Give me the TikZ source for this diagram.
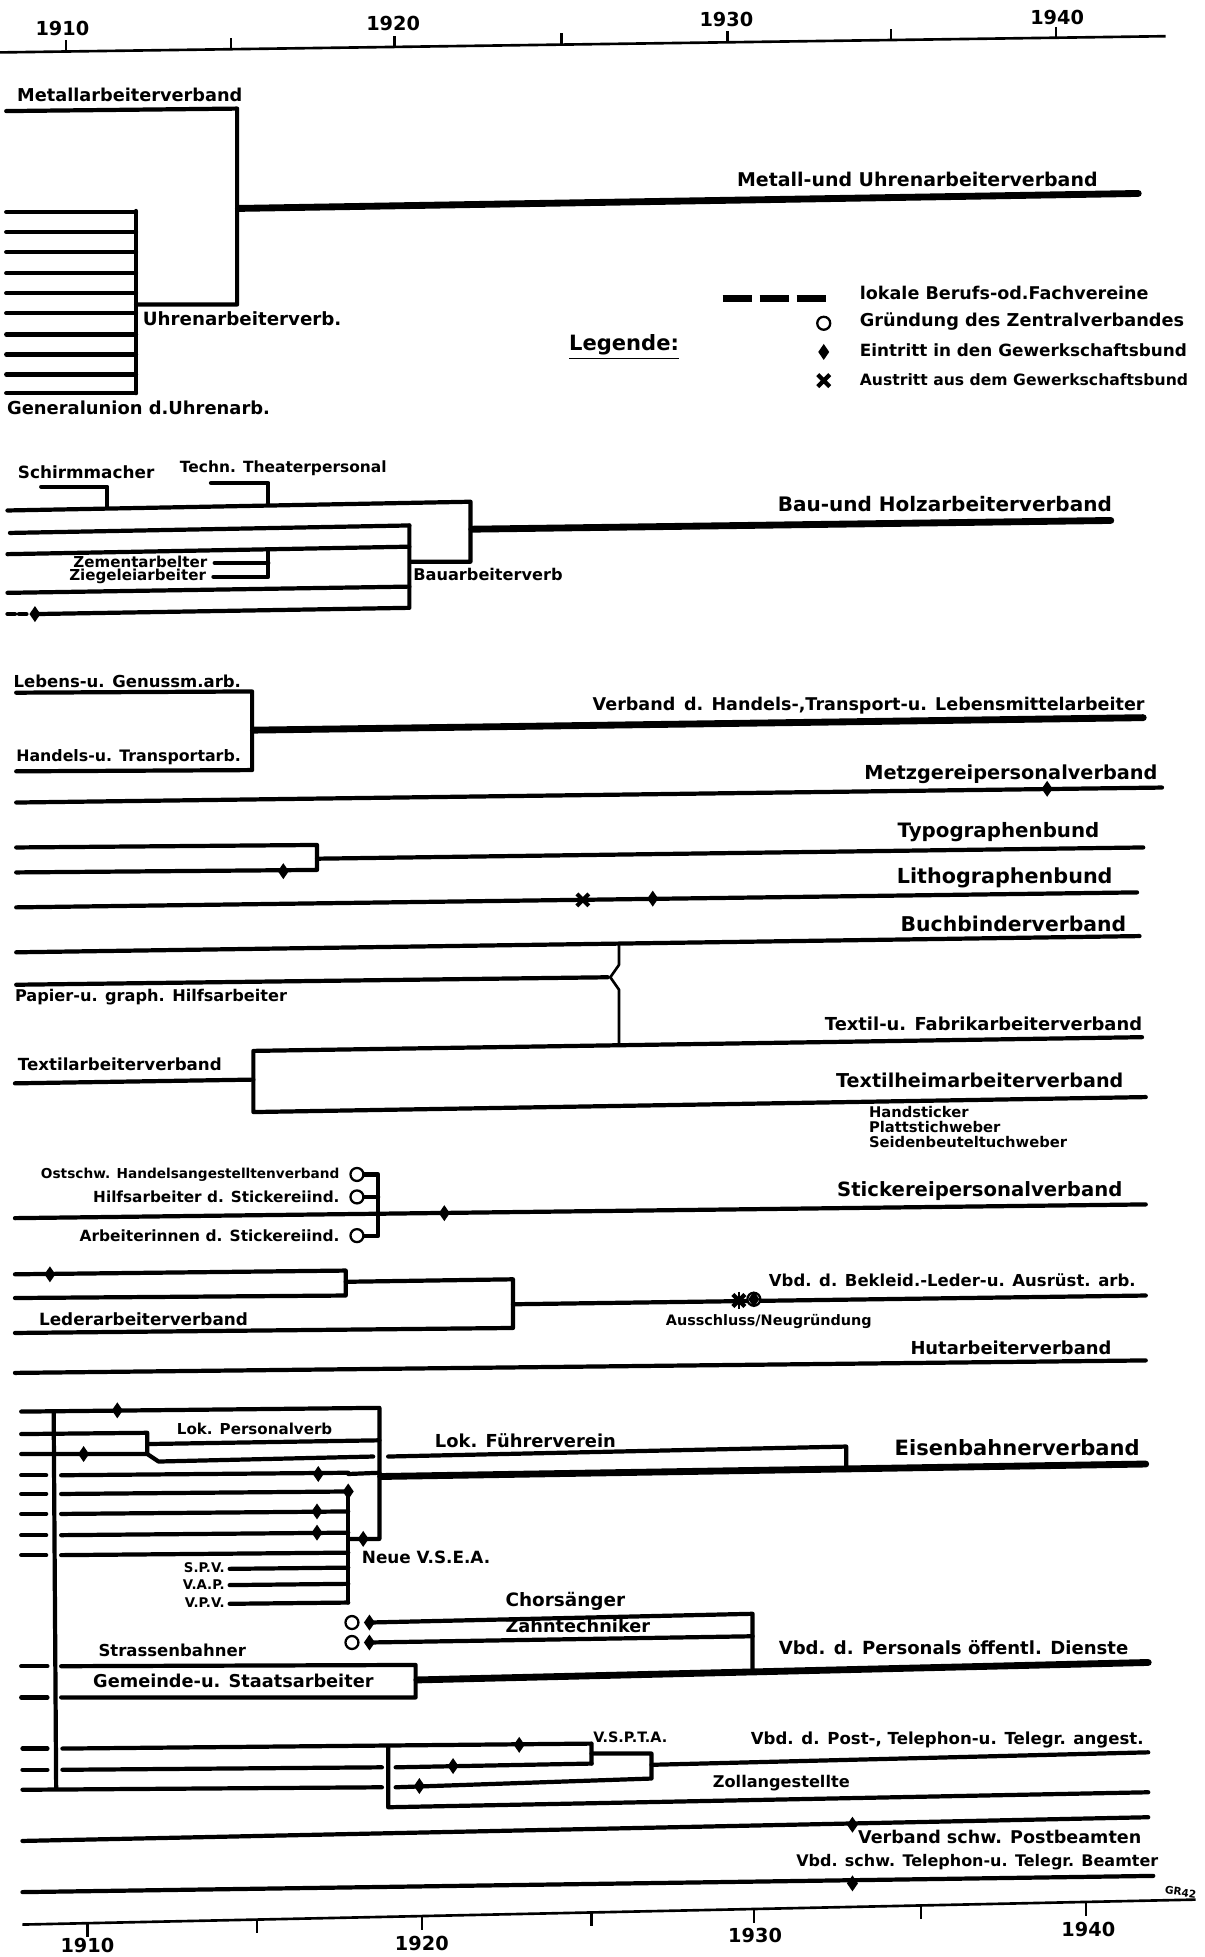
\documentclass[tikz,border=0pt]{standalone}
\usepackage{fontspec}
\setmainfont{DejaVu Sans}
\def\sk{0.025}
\def\punkt#1#2{
	({(#1)*\sk},{-(#2)*\sk})
}
\def\raute#1#2{
	\fill \punkt{#1}{#2} ++(0,0.16) -- ++(0.11,-0.16) -- ++(-0.11,-0.16) -- ++(-0.11,0.16) -- cycle;
}
\def\kreis#1#2{
	\draw[line width=1.3pt,fill=white] \punkt{#1}{#2} circle (0.13);
}
\def\kreuz#1#2{
	\draw[line width=2.4pt] \punkt{#1}{#2} ++(-0.12,0.12) -- ++(0.24,-0.24) ++(-0.24,0) -- ++(0.24,0.24);
}
\tikzset{
	linie/.style={line width=2.4pt,line cap=round,line join=round},
	dick/.style={line width=3.9pt,line cap=round},
	duenn/.style={line width=1.5pt,line join=round},
	achse/.style={line width=1.5pt},
	schrift/.style={font=\fontsize{#1}{#1}\selectfont\bfseries},
}

\begin{document}
\begin{tikzpicture}
\useasboundingbox \punkt{0}{0} rectangle \punkt{965}{1568};
\fill[white] \punkt{0}{0} rectangle \punkt{965}{1568};

% Zeitachsen
\draw[achse] \punkt{0}{42} -- \punkt{934}{29};
\foreach \x in {53,185,316,450,583,714,846}{
	\draw[achse] \punkt{\x}{42-\x/72} -- \punkt{\x}{33-\x/72};
}
\node[schrift=11] (o1910) at \punkt{50}{23} {1910};
\node[schrift=11] (o1920) at \punkt{315}{19} {1920};
\node[schrift=11] (o1930) at \punkt{582}{16} {1930};
\node[schrift=11] (o1940) at \punkt{847}{14} {1940};
\draw[achse] \punkt{18}{1542} -- \punkt{958}{1522};
\foreach \x in {70,206,338,474,604,738,870}{
	\draw[achse] \punkt{\x}{1542-(\x-18)/47} -- \punkt{\x}{1553-(\x-18)/47};
}
\node[schrift=11] (u1910) at \punkt{70}{1559} {1910};
\node[schrift=11] (u1920) at \punkt{338}{1557} {1920};
\node[schrift=11] (u1930) at \punkt{605}{1551} {1930};
\node[schrift=11] (u1940) at \punkt{872}{1546} {1940};
\node[schrift=6,rotate=-8] (zeichen) at \punkt{946}{1516} {GR42};

% Metall
\draw[linie] \punkt{5}{89} -- \punkt{190}{87} -- \punkt{190}{244} -- \punkt{109}{244};
\foreach \y in {170,186,202,219,235,251,268,284,300,315}{
	\draw[linie] \punkt{5}{\y} -- \punkt{109}{\y};
}
\draw[linie] \punkt{109}{169} -- \punkt{109}{315};
\draw[dick] \punkt{191}{167} -- \punkt{912}{155};
\node[schrift=10.1] (metallarb) at \punkt{104}{76} {Metallarbeiterverband};
\node[schrift=10.8] (metalluhren) at \punkt{735}{144} {Metall-und Uhrenarbeiterverband};
\node[schrift=10.4] (uhrenarb) at \punkt{194}{255} {Uhrenarbeiterverb.};
\node[schrift=10.2] (generalunion) at \punkt{111}{327} {Generalunion d.Uhrenarb.};

% Legende
\node[schrift=12] (legende) at \punkt{500}{278} {\underline{Legende:}};
\draw[line width=4pt,dash pattern=on 0.58cm off 0.16cm] \punkt{579}{239} -- \punkt{665}{239};
\kreis{660}{259}
\raute{660}{282}
\kreuz{660}{305}
\node[schrift=10,anchor=west] (lokal) at \punkt{684}{235} {lokale Berufs-od.Fachvereine};
\node[schrift=10.1,anchor=west] (gruendung) at \punkt{684}{258} {Gründung des Zentralverbandes};
\node[schrift=9.6,anchor=west] (eintritt) at \punkt{684}{281} {Eintritt in den Gewerkschaftsbund};
\node[schrift=8.9,anchor=west] (austritt) at \punkt{684}{304} {Austritt aus dem Gewerkschaftsbund};

% Bau und Holz
\draw[linie] \punkt{33}{390} -- \punkt{86}{390} -- \punkt{86}{406};
\draw[linie] \punkt{169}{387} -- \punkt{215}{387} -- \punkt{215}{403};
\draw[linie] \punkt{6}{409} -- \punkt{377}{402} -- \punkt{377}{450} -- \punkt{329}{450};
\draw[linie] \punkt{8}{427} -- \punkt{328}{421};
\draw[linie] \punkt{6}{444} -- \punkt{328}{438};
\draw[linie] \punkt{172}{451} -- \punkt{215}{451};
\draw[linie] \punkt{171}{462} -- \punkt{215}{462} -- \punkt{215}{440};
\draw[linie] \punkt{6}{475} -- \punkt{328}{470};
\draw[linie,dash pattern=on 0.15cm off 0.08cm] \punkt{6}{492} -- \punkt{24}{492};
\draw[linie] \punkt{28}{492} -- \punkt{328}{487} -- \punkt{328}{421};
\raute{28}{492}
\draw[dick] \punkt{378}{424} -- \punkt{890}{417};
\node[schrift=9.6] (schirm) at \punkt{69}{378} {Schirmmacher};
\node[schrift=8.8] (theater) at \punkt{227}{375} {Techn. Theaterpersonal};
\node[schrift=8.6,anchor=east] (zement) at \punkt{171}{450} {Zementarbelter};
\node[schrift=8.6,anchor=east] (ziegel) at \punkt{170}{462} {Ziegeleiarbeiter};
\node[schrift=9.2] (bauarb) at \punkt{391}{460} {Bauarbeiterverb};
\node[schrift=11.4] (bauholz) at \punkt{757}{404} {Bau-und Holzarbeiterverband};

% Handel, Lebensmittel, graphisches Gewerbe
\draw[linie] \punkt{13}{555} -- \punkt{202}{554} -- \punkt{202}{617} -- \punkt{13}{618};
\draw[dick] \punkt{203}{585} -- \punkt{916}{575};
\node[schrift=9.4] (lebens) at \punkt{102}{546} {Lebens-u. Genussm.arb.};
\node[schrift=9] (handels) at \punkt{103}{607} {Handels-u. Transportarb.};
\node[schrift=10] (handtrans) at \punkt{696}{565} {Verband\enspace d. Handels-,Transport-u. Lebensmittelarbeiter};
\draw[linie] \punkt{13}{643} -- \punkt{931}{631};
\raute{839}{632}
\node[schrift=11] (metzger) at \punkt{810}{620} {Metzgereipersonalverband};
\draw[linie] \punkt{13}{679} -- \punkt{254}{677} -- \punkt{254}{697} -- \punkt{13}{699};
\draw[linie] \punkt{254}{688} -- \punkt{916}{679};
\raute{227}{698}
\node[schrift=11.3] (typo) at \punkt{800}{667} {Typographenbund};
\draw[linie] \punkt{13}{727} -- \punkt{911}{715};
\kreuz{467}{721}
\raute{523}{720}
\node[schrift=11.8] (litho) at \punkt{805}{703} {Lithographenbund};
\draw[linie] \punkt{13}{763} -- \punkt{913}{750};
\node[schrift=11.6] (buchbinder) at \punkt{812}{740} {Buchbinderverband};
\draw[linie] \punkt{13}{789} -- \punkt{487}{783};
\draw[duenn] \punkt{496}{757} -- \punkt{496}{773} -- \punkt{489}{783} -- \punkt{496}{793} -- \punkt{496}{838};
\node[schrift=9.2] (papier) at \punkt{121}{799} {Papier-u. graph. Hilfsarbeiter};

% Textil
\draw[linie] \punkt{12}{868} -- \punkt{203}{865};
\draw[linie] \punkt{915}{831} -- \punkt{203}{842} -- \punkt{203}{891} -- \punkt{918}{879};
\node[schrift=9.5] (textilarb) at \punkt{96}{853} {Textilarbeiterverband};
\node[schrift=10.2] (textilfabrik) at \punkt{788}{820} {Textil-u. Fabrikarbeiterverband};
\node[schrift=10.9] (textilheim) at \punkt{785}{866} {Textilheimarbeiterverband};
\node[font=\fontsize{8.4}{8.5}\selectfont\bfseries,anchor=west,align=left,inner sep=0pt] (heimarb) at \punkt{696}{903} {Handsticker\\Plattstichweber\\Seidenbeuteltuchweber};

% Stickerei
\draw[linie] \punkt{12}{976} -- \punkt{918}{965};
\raute{356}{972}
\draw[linie] \punkt{291}{941} -- \punkt{303}{941} -- \punkt{303}{990} -- \punkt{291}{990};
\draw[linie] \punkt{291}{959} -- \punkt{303}{959};
\kreis{286}{941}
\kreis{286}{959}
\kreis{286}{990}
\node[schrift=7.8,anchor=east] (ostschw) at \punkt{277}{941} {Ostschw. Handelsangestelltenverband};
\node[schrift=8.7,anchor=east] (hilfsarb) at \punkt{277}{959} {Hilfsarbeiter d. Stickereiind.};
\node[schrift=8.8,anchor=east] (arbeiterinnen) at \punkt{277}{990} {Arbeiterinnen d. Stickereiind.};
\node[schrift=11.2] (stickerei) at \punkt{785}{954} {Stickereipersonalverband};

% Bekleidung, Leder, Hut
\draw[linie] \punkt{12}{1021} -- \punkt{277}{1018} -- \punkt{277}{1038} -- \punkt{12}{1040};
\raute{40}{1021}
\draw[linie] \punkt{277}{1027} -- \punkt{411}{1025} -- \punkt{411}{1064} -- \punkt{12}{1068};
\draw[linie] \punkt{411}{1045} -- \punkt{918}{1038};
\kreuz{592}{1042}
\draw[line width=1.5pt] \punkt{592}{1035} -- \punkt{592}{1049};
\kreis{604}{1041}
\raute{604}{1041}
\node[schrift=9.4] (bekleid) at \punkt{763}{1026} {Vbd. d. Bekleid.-Leder-u. Ausrüst. arb.};
\node[schrift=9.6] (lederarb) at \punkt{115}{1057} {Lederarbeiterverband};
\node[schrift=8.2] (ausschluss) at \punkt{616}{1059} {Ausschluss/Neugründung};
\draw[linie] \punkt{12}{1100} -- \punkt{918}{1090};
\node[schrift=10.2] (hut) at \punkt{810}{1080} {Hutarbeiterverband};

% Eisenbahn
\draw[linie] \punkt{17}{1131} -- \punkt{304}{1128} -- \punkt{304}{1233} -- \punkt{279}{1233};
\raute{94}{1130}
\raute{291}{1233}
\draw[linie] \punkt{43}{1131} -- \punkt{45}{1433};
\draw[linie] \punkt{17}{1149} -- \punkt{118}{1148} -- \punkt{118}{1165};
\draw[linie] \punkt{118}{1157} -- \punkt{304}{1154};
\draw[linie] \punkt{17}{1165} -- \punkt{118}{1165} -- \punkt{127}{1171} -- \punkt{299}{1167};
\raute{67}{1165}
\draw[linie] \punkt{311}{1167} -- \punkt{678}{1159} -- \punkt{678}{1175};
\draw[dick] \punkt{305}{1183} -- \punkt{918}{1173};
\foreach \y in {1182,1197,1213,1230,1246}{
	\draw[linie] \punkt{17}{\y} -- \punkt{37}{\y};
	\draw[linie] \punkt{49}{\y} -- \punkt{279}{\y-2};
}
\draw[linie] \punkt{279}{1181} -- \punkt{304}{1180};
\raute{255}{1181}
\raute{279}{1195}
\raute{254}{1211}
\raute{254}{1228}
\draw[linie] \punkt{279}{1195} -- \punkt{279}{1284};
\draw[linie] \punkt{184}{1257} -- \punkt{279}{1256};
\draw[linie] \punkt{184}{1270} -- \punkt{279}{1269};
\draw[linie] \punkt{184}{1285} -- \punkt{279}{1284};
\node[schrift=8.6] (lokpersonal) at \punkt{204}{1145} {Lok. Personalverb};
\node[schrift=10.2] (lokfuehrer) at \punkt{421}{1154} {Lok. Führerverein};
\node[schrift=12] (eisenbahn) at \punkt{815}{1160} {Eisenbahnerverband};
\node[schrift=9.6,anchor=west] (vsea) at \punkt{285}{1248} {Neue V.S.E.A.};
\node[schrift=7.6,anchor=east] (spv) at \punkt{185}{1256} {S.P.V.};
\node[schrift=7.6,anchor=east] (vap) at \punkt{185}{1270} {V.A.P.};
\node[schrift=7.6,anchor=east] (vpv) at \punkt{185}{1284} {V.P.V.};

% oeffentliche Dienste
\draw[linie] \punkt{296}{1300} -- \punkt{603}{1293} -- \punkt{603}{1338};
\draw[linie] \punkt{296}{1316} -- \punkt{603}{1311};
\kreis{282}{1300}
\kreis{282}{1316}
\raute{296}{1300}
\raute{296}{1316}
\draw[linie] \punkt{17}{1335} -- \punkt{38}{1335};
\draw[linie] \punkt{17}{1360} -- \punkt{38}{1360};
\draw[linie] \punkt{49}{1335} -- \punkt{333}{1334} -- \punkt{333}{1360} -- \punkt{49}{1360};
\draw[dick] \punkt{334}{1346} -- \punkt{920}{1332};
\node[schrift=10.5] (chor) at \punkt{453}{1283} {Chorsänger};
\node[schrift=10.1] (zahn) at \punkt{463}{1303} {Zahntechniker};
\node[schrift=9.4] (strassen) at \punkt{138}{1322} {Strassenbahner};
\node[schrift=10.1] (gemeinde) at \punkt{187}{1347} {Gemeinde-u. Staatsarbeiter};
\node[schrift=10.3] (personal) at \punkt{764}{1320} {Vbd. d. Personals öffentl. Dienste};

% Post, Telephon, Zoll
\draw[linie] \punkt{18}{1401} -- \punkt{38}{1401};
\draw[linie] \punkt{50}{1401} -- \punkt{474}{1397} -- \punkt{474}{1413};
\raute{416}{1398}
\draw[linie] \punkt{18}{1418} -- \punkt{38}{1418};
\draw[linie] \punkt{50}{1418} -- \punkt{306}{1416};
\draw[linie] \punkt{317}{1416} -- \punkt{474}{1413};
\raute{363}{1415}
\draw[linie] \punkt{18}{1434} -- \punkt{306}{1432};
\draw[linie] \punkt{317}{1432} -- \punkt{522}{1425} -- \punkt{522}{1405} -- \punkt{474}{1405};
\raute{336}{1431}
\draw[linie] \punkt{311}{1400} -- \punkt{311}{1448} -- \punkt{920}{1436};
\draw[linie] \punkt{522}{1414} -- \punkt{920}{1404};
\node[schrift=8.2] (vspta) at \punkt{505}{1392} {V.S.P.T.A.};
\node[schrift=9.45] (posttel) at \punkt{759}{1394} {Vbd. d. Post-, Telephon-u. Telegr. angest.};
\node[schrift=9.2] (zoll) at \punkt{626}{1429} {Zollangestellte};
\draw[linie] \punkt{18}{1475} -- \punkt{920}{1456};
\raute{683}{1462}
\node[schrift=10] (postbeamte) at \punkt{801}{1472} {Verband schw. Postbeamten};
\draw[linie] \punkt{18}{1516} -- \punkt{924}{1503};
\raute{683}{1509}
\node[schrift=9.1] (telbeamte) at \punkt{783}{1492} {Vbd. schw. Telephon-u. Telegr. Beamter};
\end{tikzpicture}
\end{document}
